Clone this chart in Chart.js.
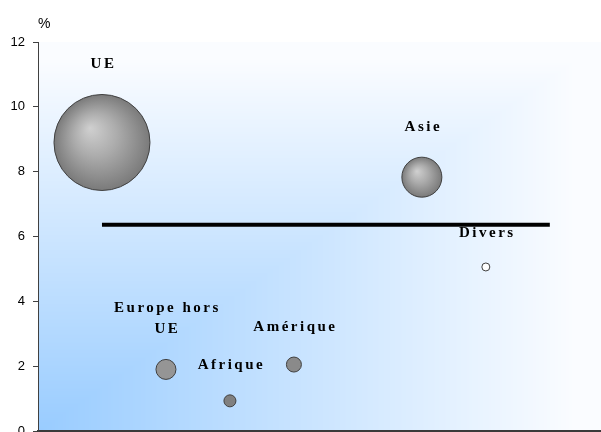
<!DOCTYPE html>
<html>
<head>
<meta charset="utf-8">
<script src="https://cdn.jsdelivr.net/npm/chart.js@4/dist/chart.umd.min.js"></script>
<style>
  html, body { margin: 0; padding: 0; background: #fff; }
  #wrap { width: 601px; height: 432px; position: relative; }
</style>
</head>
<body>
<div id="wrap"><canvas id="chart"></canvas></div>
<script>
// régions, position sur l'axe horizontal, taux (%) et taille de bulle
const regions = [['UE'], ['Europe hors', 'UE'], ['Afrique'], ['Amérique'], ['Asie'], ['Divers']];
const xPos = [1, 2, 3, 4, 6, 7];
const rates = [8.9, 1.9, 0.93, 2.05, 7.83, 5.06];
const sizes = [48, 10, 6, 7.5, 20, 4];
const fills = ['grad', '#959595', '#808080', '#8a8a8a', 'grad', '#ffffff'];

// moyenne (ligne horizontale)
const avgX = [1, 8];
const avgY = [6.36, 6.36];

const yTicks = [0, 2, 4, 6, 8, 10, 12];

const bubbleData = xPos.map((x, i) => ({ x: x, y: rates[i], r: sizes[i] }));
const lineData = avgX.map((x, i) => ({ x: x, y: avgY[i] }));

// fond dégradé "depuis le coin"
const bgPlugin = {
    id: 'bg',
    beforeDraw(chart) {
        const a = chart.chartArea;
        const w = Math.round(a.right - a.left), h = Math.round(a.bottom - a.top);
        const img = chart.ctx.createImageData(w, h);
        for (let j = 0; j < h; j++) {
            const dy = (h - j) / h;
            for (let i = 0; i < w; i++) {
                const dx = i / w;
                let t = Math.min(1, Math.max(dx, dy) * 1.05);
                const k = (j * w + i) * 4;
                img.data[k] = 153 + (250 - 153) * t;
                img.data[k + 1] = 204 + (252 - 204) * t;
                img.data[k + 2] = 255;
                img.data[k + 3] = 255;
            }
        }
        chart.ctx.putImageData(img, Math.round(a.left), Math.round(a.top));
    }
};

// étiquettes au-dessus des bulles + "%"
const labelPlugin = {
    id: 'labels',
    afterDatasetsDraw(chart) {
        const ctx = chart.ctx;
        const meta = chart.getDatasetMeta(0);
        ctx.save();
        ctx.fillStyle = '#000';
        ctx.font = 'bold 15px "Liberation Serif", "Times New Roman", serif';
        ctx.letterSpacing = '2.5px';
        ctx.textAlign = 'center';
        ctx.textBaseline = 'middle';
        meta.data.forEach((el, i) => {
            const lines = regions[i];
            const base = el.y - sizes[i] - 30;
            lines.forEach((txt, k) => {
                const y = base - (lines.length - 1 - k) * 21;
                ctx.fillText(txt, el.x + 1.5, y);
            });
        });
        ctx.letterSpacing = '0px';
        ctx.font = '14px "Liberation Sans", Arial, sans-serif';
        ctx.textAlign = 'left';
        ctx.fillText('%', chart.chartArea.left, 24);
        ctx.restore();
    }
};

function bubbleFill(context) {
    const i = context.dataIndex;
    if (fills[i] !== 'grad') return fills[i];
    const chart = context.chart;
    const sx = chart.scales.x, sy = chart.scales.y;
    if (!sx || !sy) return '#9a9a9a';
    const cx = sx.getPixelForValue(xPos[i]);
    const cy = sy.getPixelForValue(rates[i]);
    const r = sizes[i];
    if (!isFinite(cx) || !isFinite(cy)) return '#9a9a9a';
    const g = chart.ctx.createRadialGradient(cx - r * 0.25, cy - r * 0.3, 0, cx, cy, r);
    g.addColorStop(0, '#d0d0d0');
    g.addColorStop(0.45, '#acacac');
    g.addColorStop(1, '#7a7a7a');
    return g;
}

new Chart(document.getElementById('chart'), {
    type: 'bubble',
    data: {
        datasets: [{
            data: bubbleData,
            backgroundColor: bubbleFill,
            borderColor: '#404040',
            borderWidth: 1,
            hoverRadius: 0,
            clip: false
        }, {
            type: 'line',
            data: lineData,
            borderColor: '#000',
            borderWidth: 4,
            pointRadius: 0,
            fill: false
        }]
    },
    options: {
        responsive: true,
        maintainAspectRatio: false,
        animation: false,
        events: [],
        layout: { autoPadding: false, padding: { top: 42, right: 0, bottom: 0, left: 0 } },
        plugins: {
            legend: { display: false },
            tooltip: { enabled: false }
        },
        scales: {
            x: {
                type: 'linear',
                min: 0,
                max: 8.8,
                grid: { display: false, drawTicks: false },
                ticks: { display: false },
                border: { color: '#3a3a3a', width: 2 },
                afterFit(scale) {
                    scale.height = 1;
                    scale.paddingLeft = scale.paddingRight = 0;
                }
            },
            y: {
                min: 0,
                max: 12,
                afterBuildTicks(scale) { scale.ticks = yTicks.map(v => ({ value: v })); },
                ticks: {
                    color: '#000',
                    padding: 8,
                    font: { family: '"Liberation Sans", Arial, sans-serif', size: 13 }
                },
                grid: { drawOnChartArea: false, tickLength: 5, color: '#404040' },
                border: { color: '#404040', width: 1 },
                afterFit(scale) {
                    scale.width = 38;
                    scale.paddingTop = scale.paddingBottom = 0;
                }
            }
        }
    },
    plugins: [bgPlugin, labelPlugin]
});
</script>
</body>
</html>
